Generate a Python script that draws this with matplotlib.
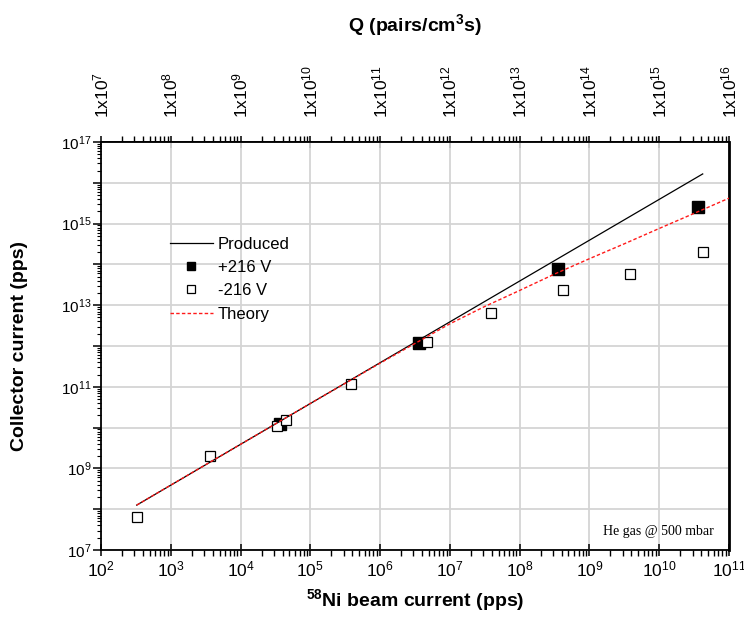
import numpy as np
import matplotlib
matplotlib.use("Agg")
import matplotlib.pyplot as plt
from matplotlib.ticker import LogLocator, FuncFormatter, NullFormatter
from matplotlib.lines import Line2D

plt.rcParams["font.family"] = ["Liberation Sans", "DejaVu Sans"]
plt.rcParams["mathtext.fontset"] = "custom"
plt.rcParams["mathtext.rm"] = "Liberation Sans"
plt.rcParams["mathtext.it"] = "Liberation Sans:italic"
plt.rcParams["mathtext.bf"] = "Liberation Sans:bold"

# Ion-pair production rate per unit beam current
Q_PER_BEAM = 1e5

# Produced collector current (straight line in log-log)
beam_produced = [3.25e2, 4.2e10]
coll_produced = [1.26e8, 1.65e16]

# Theory curve
beam_theory = [3.25e2, 1e3, 1e4, 1e5, 1e6, 1e7, 3.16e7, 1e8, 3.16e8,
               1e9, 3.16e9, 1e10, 3.16e10, 1e11]
coll_theory = [1.26e8, 3.9e8, 3.9e9, 3.9e10, 3.8e11, 3.5e12, 9.3e12, 2.3e13,
               5.8e13, 1.38e14, 3.2e14, 7.6e14, 1.78e15, 4.2e15]

# Measured collector current, +216 V
beam_pos = [3.7e4, 3.66e6, 3.6e8, 3.6e10]
coll_pos = [1.26e10, 1.17e12, 7.7e13, 2.6e15]

# Measured collector current, -216 V
beam_neg = [3.25e2, 3.7e3, 3.3e4, 4.45e4, 3.8e5, 4.7e6, 3.86e7, 4.2e8, 3.8e9, 4.2e10]
coll_neg = [6.6e7, 2.0e9, 1.1e10, 1.55e10, 1.18e11, 1.23e12, 6.6e12, 2.3e13, 5.7e13, 2.0e14]

x_limits = (1e2, 1e11)
y_limits = (1e7, 1e17)

W, H = 744, 627
fig = plt.figure(figsize=(W / 100, H / 100), dpi=100)
ax = fig.add_axes([101 / W, 1 - 550 / H, (729 - 101) / W, (550 - 142) / H])

ax.set_xscale("log")
ax.set_yscale("log")
ax.set_xlim(*x_limits)
ax.set_ylim(*y_limits)

ax.grid(True, which="major", color="#d4d4d4", lw=1.3, zorder=0)
ax.set_axisbelow(True)

ax.plot(beam_pos, coll_pos, ls="none", marker="s", ms=8.4, mfc="black",
        mec="black", zorder=3)
ax.plot(beam_neg, coll_neg, ls="none", marker="s", ms=6.6, mfc="white",
        mec="black", mew=0.9, zorder=4)
ax.plot(beam_produced, coll_produced, color="black", lw=0.9, zorder=5)
ax.plot(beam_theory, coll_theory, color="#ff1a1a", lw=1.0,
        ls=(0, (2.5, 1.6)), zorder=6)

# Axis ticks
ax.xaxis.set_major_locator(LogLocator(base=10, numticks=30))
ax.xaxis.set_minor_locator(LogLocator(base=10, subs=np.arange(2, 10), numticks=30))
ax.xaxis.set_minor_formatter(NullFormatter())
ax.xaxis.set_major_formatter(FuncFormatter(
    lambda v, p: r"$10^{%d}$" % int(round(np.log10(v)))))

ax.yaxis.set_major_locator(LogLocator(base=10, numticks=30))
ax.yaxis.set_minor_locator(LogLocator(base=10, subs=np.arange(2, 10), numticks=30))
ax.yaxis.set_minor_formatter(NullFormatter())


def ylab(v, p):
    e = int(round(np.log10(v)))
    return r"$10^{%d}$" % e if e % 2 == 1 else ""


ax.yaxis.set_major_formatter(FuncFormatter(ylab))

ax.tick_params(axis="x", which="major", direction="inout", length=9, width=1.1,
               labelsize=12.5, pad=2, top=False)
ax.tick_params(axis="x", which="minor", direction="out", length=4, width=1.0,
               top=False)
ax.tick_params(axis="y", which="major", direction="out", length=6, width=1.1,
               labelsize=11, pad=1, right=False)
ax.tick_params(axis="y", which="minor", direction="out", length=3, width=0.8,
               right=False)

for side in ["left", "bottom", "top"]:
    ax.spines[side].set_linewidth(1.3)
ax.spines["right"].set_linewidth(2.0)

# Top axis: ion-pair production rate
sec = ax.secondary_xaxis("top", functions=(lambda b: b * Q_PER_BEAM,
                                           lambda q: q / Q_PER_BEAM))
sec.xaxis.set_major_locator(LogLocator(base=10, numticks=30))
sec.xaxis.set_minor_locator(LogLocator(base=10, subs=np.arange(2, 10), numticks=30))
sec.xaxis.set_minor_formatter(NullFormatter())
sec.xaxis.set_major_formatter(FuncFormatter(
    lambda v, p: r"1x10$^{%d}$" % int(round(np.log10(v)))))
sec.tick_params(axis="x", which="major", direction="inout", length=9, width=1.1,
                labelsize=12.5, labelrotation=90, pad=13)
sec.tick_params(axis="x", which="minor", direction="out", length=4, width=1.0)
sec.spines["top"].set_linewidth(1.3)
sec.set_xlabel(r"Q (pairs/cm$^{\mathbf{3}}$s)", fontsize=14, fontweight="bold")
sec.xaxis.set_label_coords(415 / W, 1 - 25 / H, transform=fig.transFigure)
sec.xaxis.label.set_va("center")

ax.set_xlabel(r"$^{\mathbf{58}}$Ni beam current (pps)", fontsize=14,
              fontweight="bold")
ax.xaxis.set_label_coords(0.5, (550 - 600) / 408)
ax.xaxis.label.set_va("center")
ax.set_ylabel("Collector current (pps)", fontsize=14, fontweight="bold")
ax.yaxis.set_label_coords((20 - 101) / 628, 0.5)
ax.yaxis.label.set_va("center")

handles = [
    Line2D([], [], color="black", lw=0.9),
    Line2D([], [], ls="none", marker="s", ms=5.5, mfc="black", mec="black"),
    Line2D([], [], ls="none", marker="s", ms=5.5, mfc="white", mec="black", mew=0.9),
    Line2D([], [], color="#ff1a1a", lw=1.0, ls=(0, (2.5, 1.6))),
]
labels = ["Produced", "+216 V", "-216 V", "Theory"]
ax.legend(handles, labels, loc="upper left", bbox_to_anchor=(0.11, 0.768),
          frameon=False, fontsize=12, handlelength=2.55, handletextpad=0.3,
          labelspacing=0.5, borderpad=0, borderaxespad=0)

ax.text(0.975, 0.045, "He gas @ 500 mbar", transform=ax.transAxes,
        ha="right", va="center", fontsize=10, family=["Liberation Serif"])

fig.savefig("out.png", dpi=100)
